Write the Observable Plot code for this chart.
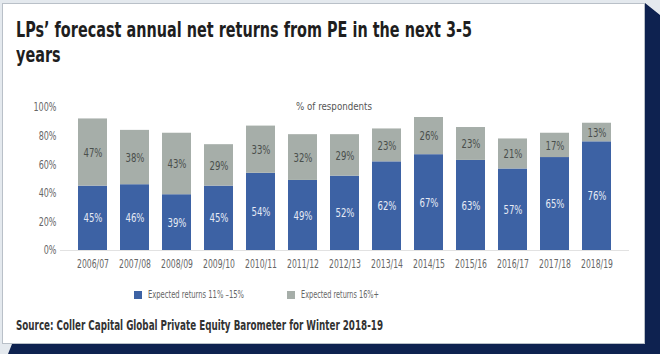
<!DOCTYPE html>
<html><head><meta charset="utf-8">
<script src="https://cdn.jsdelivr.net/npm/d3@7"></script>
<script src="https://cdn.jsdelivr.net/npm/@observablehq/plot@0.6"></script>
<style>
body{margin:0;width:660px;height:354px;overflow:hidden;background:#e4e9ee;position:relative;font-family:"DejaVu Sans Condensed","DejaVu Sans",sans-serif;}
#shadow{position:absolute;left:8px;top:3px;width:652px;height:351px;background:#0e2250;clip-path:polygon(637px 0,652px 12px,652px 351px,0 351px,4px 341px,637px 341px);}
#card{position:absolute;left:2px;top:3px;width:641px;height:339px;background:#fff;border:1px solid #b9c0c8;}
.fit{position:absolute;white-space:nowrap;transform-origin:0 50%;}
#t1,#t2{left:16px;font-weight:bold;font-size:21px;color:#1e1e1e;font-family:"DejaVu Sans",sans-serif;}
#t1{top:18px;} #t2{top:43px;}
#sub{top:100px;left:296px;font-size:11px;color:#555;}
#chart{position:absolute;left:0;top:95px;}
.leg{top:288px;font-size:11px;color:#666;}
.sw{position:absolute;top:291px;width:8px;height:8px;}
#src{left:16px;top:317px;font-weight:bold;font-size:13.5px;color:#333;font-family:"DejaVu Sans",sans-serif;}
</style></head>
<body>
<div id="shadow"></div>
<div id="card"></div>
<div class="fit" id="t1" data-w="456">LPs’ forecast annual net returns from PE in the next 3-5</div>
<div class="fit" id="t2" data-ref="t1">years</div>
<div class="fit" id="sub" data-w="76">% of respondents</div>
<div id="chart"></div>
<span class="sw" style="left:134px;background:#3d62a4"></span>
<div class="fit leg" id="l1" style="left:148px" data-w="96"></div>
<span class="sw" style="left:287px;background:#a6aea9"></span>
<div class="fit leg" id="l2" style="left:301px" data-w="78"></div>
<div class="fit" id="src" data-w="367">Source: Coller Capital Global Private Equity Barometer for Winter 2018-19</div>
<script>
const years = ["2006/07","2007/08","2008/09","2009/10","2010/11","2011/12","2012/13","2013/14","2014/15","2015/16","2016/17","2017/18","2018/19"];
const series = ["Expected returns 11% –15%","Expected returns 16%+"];
const low = [45,46,39,45,54,49,52,62,67,63,57,65,76];
const high = [47,38,43,29,33,32,29,23,26,23,21,17,13];
const yTicks = [0,20,40,60,80,100];
const colors = ["#3d62a4","#a6aea9"];
const labelColors = ["#e6ebf5","#4a4f4c"];

document.getElementById("l1").textContent = series[0];
document.getElementById("l2").textContent = series[1];

const data = [];
years.forEach((y,i)=>data.push({year:y,series:series[0],value:low[i]}));
years.forEach((y,i)=>data.push({year:y,series:series[1],value:high[i]}));

const font = '"DejaVu Sans Condensed","DejaVu Sans",sans-serif';
const chart = Plot.plot({
  width:660, height:185,
  marginLeft:60, marginRight:31, marginTop:12, marginBottom:30,
  style:{fontFamily:font,fontSize:"12px",color:"#666",background:"transparent"},
  x:{domain:years,padding:0.32,label:null,tickSize:0,tickPadding:9},
  y:{domain:[0,100],ticks:yTicks,tickFormat:d=>d+"%",label:null,tickSize:0,tickPadding:4},
  color:{domain:series,range:colors},
  marks:[
    Plot.ruleY([0],{stroke:"#e2e2e2"}),
    Plot.barY(data,Plot.stackY({x:"year",y:"value",fill:"series",order:null})),
    Plot.text(data,Plot.stackY({x:"year",y:"value",z:"series",order:null,text:d=>d.value+"%",fill:d=>labelColors[series.indexOf(d.series)],fontSize:13}))
  ]
});
document.getElementById("chart").appendChild(chart);

// horizontal condensing of text to mimic the narrow typeface
const scales = {};
document.querySelectorAll(".fit[data-w]").forEach(el=>{
  const s = (+el.dataset.w)/el.getBoundingClientRect().width;
  scales[el.id]=s; el.style.transform=`scaleX(${s})`;
});
document.querySelectorAll(".fit[data-ref]").forEach(el=>{
  el.style.transform=`scaleX(${scales[el.dataset.ref]})`;
});
function squeeze(sel, sampleText, target){
  const texts = Array.from(chart.querySelectorAll(sel));
  if(!texts.length) return;
  const sample = texts.find(t=>t.textContent===sampleText) || texts[0];
  const bw = sample.getBBox().width;
  if(!(bw>0)) return;
  const s = target / bw;
  texts.forEach(t=>{
    let x = 0;
    try { if (t.x && t.x.baseVal && t.x.baseVal.numberOfItems) x = t.x.baseVal.getItem(0).value; } catch(e) {}
    if(!isFinite(x)) x = 0;
    const tr = t.getAttribute("transform")||"";
    t.setAttribute("transform", `${tr} translate(${x},0) scale(${s},1) translate(${-x},0)`.trim());
  });
}
squeeze('g[aria-label="x-axis tick label"] text', "2006/07", 32);
squeeze('g[aria-label="y-axis tick label"] text', "100%", 23);
squeeze('g[aria-label="text"] text', "45%", 19);
</script>
</body></html>
